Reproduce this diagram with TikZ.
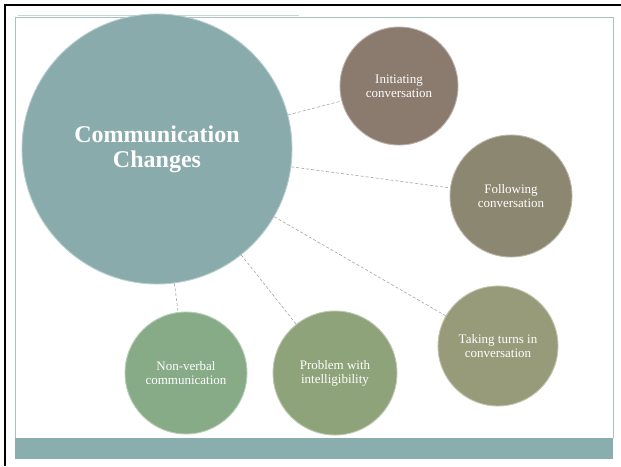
\documentclass[tikz,border=0pt]{standalone}
\usepackage{fontspec}
\setmainfont{Liberation Serif}
\usetikzlibrary{backgrounds}
\definecolor{cbig}{HTML}{89ABAB}
\definecolor{cinit}{HTML}{8B7A6E}
\definecolor{cfollow}{HTML}{8C8770}
\definecolor{cturns}{HTML}{979B79}
\definecolor{cnonverb}{HTML}{87AB86}
\definecolor{cproblem}{HTML}{8FA37B}
\definecolor{cbar}{HTML}{8AADAD}
\definecolor{cframe}{HTML}{A9C0C0}
\definecolor{ctopline}{HTML}{C6D8D6}
\begin{document}
\begin{tikzpicture}[x=1pt,y=-1pt,
  bubble/.style={circle, inner sep=0pt, text=white, align=center,
    font=\fontsize{13}{14}\selectfont, line width=0.9pt},
  bigbubble/.style={bubble, font=\bfseries\fontsize{24}{25}\selectfont},
  link/.style={draw=black!35, dash pattern=on 3pt off 2pt, line width=0.6pt}]
\useasboundingbox (0,0) rectangle (621,466);
\begin{scope}[on background layer]
\fill[white] (0,0) rectangle (621,466);
\end{scope}
% frame
\draw[black, line width=2.5pt] (5,466) -- (5,5) -- (621,5);
\draw[cframe, line width=0.8pt] (15,438) -- (15,17) -- (613,17) -- (613,438);
\draw[ctopline, line width=1.2pt] (18,15.5) -- (299,15.5);
\fill[cbar] (15,438) rectangle (613,459);
% nodes
\node[bigbubble, fill=cbig, draw=cbig!60!white, minimum size=270pt] (cc) at (157,149) {Communication\\Changes};
\node[bubble, fill=cinit, draw=cinit!60!white, minimum size=118pt] (init) at (399,86) {Initiating\\conversation};
\node[bubble, fill=cfollow, draw=cfollow!60!white, minimum size=122pt] (follow) at (511,196) {Following\\conversation};
\node[bubble, fill=cturns, draw=cturns!60!white, minimum size=120pt] (turns) at (498,346) {Taking turns in\\conversation};
\node[bubble, fill=cnonverb, draw=cnonverb!60!white, minimum size=122pt] (nonverb) at (186,373) {Non-verbal\\communication};
\node[bubble, fill=cproblem, draw=cproblem!60!white, minimum size=124pt] (problem) at (335,373) {Problem with\\intelligibility};
% connectors
\begin{scope}[on background layer]
\draw[link] (cc) -- (init);
\draw[link] (cc) -- (follow);
\draw[link] (cc) -- (turns);
\draw[link] (cc) -- (problem);
\draw[link] (cc) -- (nonverb);
\end{scope}
\end{tikzpicture}
\end{document}
